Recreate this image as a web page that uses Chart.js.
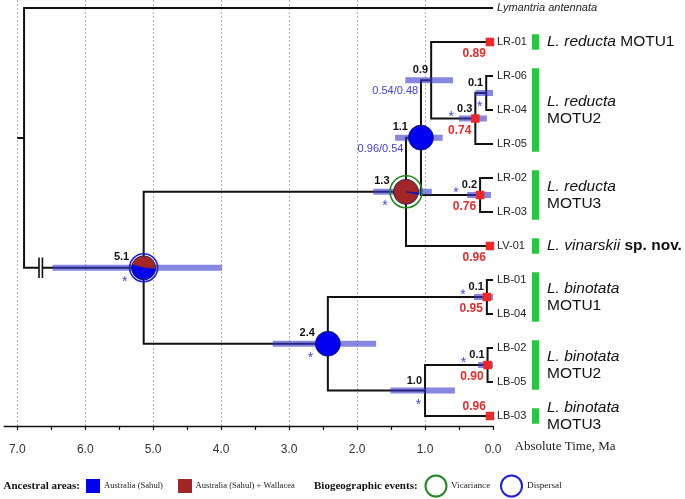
<!DOCTYPE html>
<html>
<head>
<meta charset="utf-8">
<script src="https://cdn.jsdelivr.net/npm/chart.js@4.4.1/dist/chart.umd.min.js"></script>
<style>
  html, body { margin: 0; padding: 0; background: #fff; }
  canvas { display: block; }
</style>
</head>
<body>
<canvas id="tree" width="685" height="499"></canvas>
<script>
// Tips, top to bottom (y = row index)
const tipNames = ['Lymantria antennata', 'LR-01', 'LR-06', 'LR-04', 'LR-05', 'LR-02', 'LR-03',
                  'LV-01', 'LB-01', 'LB-04', 'LB-02', 'LB-05', 'LB-03'];

// Internal nodes: age (Ma) and children
const nodeIds  = ['root', 'n51', 'n13', 'n11', 'n09', 'n03', 'n01a', 'n02', 'n24', 'n10', 'n01b', 'n01c'];
const nodeAges = [6.90, 5.14, 1.28, 1.06, 0.91, 0.26, 0.10, 0.19, 2.43, 1.00, 0.09, 0.08];
const nodeKids = [
    ['Lymantria antennata', 'n51'], ['n13', 'n24'], ['n11', 'LV-01'], ['n09', 'n02'],
    ['LR-01', 'n03'], ['n01a', 'LR-05'], ['LR-06', 'LR-04'], ['LR-02', 'LR-03'],
    ['n01b', 'n10'], ['n01c', 'LB-03'], ['LB-01', 'LB-04'], ['LB-02', 'LB-05']
];

// 95% HPD of node ages (Ma)
const hpdNodes = ['n51', 'n13', 'n11', 'n09', 'n03', 'n01a', 'n02', 'n24', 'n10', 'n01b', 'n01c'];
const hpdLow   = [3.99, 0.90, 0.74, 0.59, 0.09, 0.00, 0.03, 1.72, 0.56, 0.00, 0.00];
const hpdHigh  = [6.48, 1.76, 1.44, 1.29, 0.50, 0.26, 0.38, 3.24, 1.51, 0.28, 0.22];

// Posterior probabilities of MOTU clades (red squares)
const ppAt     = ['LR-01', 'n03', 'n02', 'LV-01', 'n01b', 'n01c', 'LB-03'];
const ppValues = [0.89, 0.74, 0.76, 0.96, 0.95, 0.90, 0.96];

// Nodes marked with an asterisk, and other support values
const starNodes    = ['n51', 'n13', 'n03', 'n01a', 'n02', 'n24', 'n10', 'n01b', 'n01c'];
const supportNodes = ['n09', 'n11'];
const supportText  = ['0.54/0.48', '0.96/0.54'];

// Ancestral areas (pie fractions) and biogeographic events
const pieNodes    = ['n51', 'n13', 'n11', 'n24'];
const pieSahul    = [0.53, 0.02, 1, 1];
const pieWallacea = [0.47, 0.98, 0, 0];
const eventNodes  = ['n51', 'n13'];
const eventTypes  = ['Dispersal', 'Vicariance'];

// MOTU bars
const motuFirst   = ['LR-01', 'LR-06', 'LR-02', 'LV-01', 'LB-01', 'LB-02', 'LB-03'];
const motuLast    = ['LR-01', 'LR-05', 'LR-03', 'LV-01', 'LB-04', 'LB-05', 'LB-03'];
const motuSpecies = ['L. reducta', 'L. reducta', 'L. reducta', 'L. vinarskii', 'L. binotata', 'L. binotata', 'L. binotata'];
const motuName    = ['MOTU1', 'MOTU2', 'MOTU3', 'sp. nov.', 'MOTU1', 'MOTU2', 'MOTU3'];
const motuOneLine = [true, false, false, true, false, false, false];

const timeTicks = [0, 1, 2, 3, 4, 5, 6, 7];

// ---- layout helpers ----
const SANS = 'Liberation Sans, Arial, sans-serif';
const SERIF = 'Liberation Serif, Times New Roman, serif';
const BLUE = '#0000f0', BROWN = '#a32626';
const STEM_BREAK = [6.68, 6.63];
const MOTU_X = -0.625;
const TIP_SQ_X = 0.045;

const yOf = {}, ageOf = {};
tipNames.forEach((n, i) => { yOf[n] = i; ageOf[n] = 0; });
nodeIds.forEach((id, i) => { ageOf[id] = nodeAges[i]; });
function rowOf(id) {
    if (id in yOf) return yOf[id];
    const k = nodeKids[nodeIds.indexOf(id)];
    yOf[id] = (rowOf(k[0]) + rowOf(k[k.length - 1])) / 2;
    return yOf[id];
}
nodeIds.forEach(rowOf);

const GAP = { x: 0, y: null };

// branches as elbow paths parent -> child
const branchPts = [];
nodeIds.forEach((id, i) => {
    const a = nodeAges[i], y0 = yOf[id];
    nodeKids[i].forEach(k => {
        const y = yOf[k];
        if (k === 'n51') {
            branchPts.push({ x: a, y: y0 }, { x: a, y: y }, { x: STEM_BREAK[0], y: y }, GAP,
                           { x: STEM_BREAK[1], y: y }, { x: ageOf[k], y: y }, GAP);
        } else {
            branchPts.push({ x: a, y: y0 }, { x: a, y: y }, { x: ageOf[k], y: y }, GAP);
        }
    });
});
branchPts.push({ x: nodeAges[0] + 0.1, y: yOf.root }, { x: nodeAges[0], y: yOf.root }, GAP);

const breakPts = [];
STEM_BREAK.forEach(b => breakPts.push({ x: b, y: yOf.n51 - 0.3 }, { x: b, y: yOf.n51 + 0.3 }, GAP));

const hpdPts = [];
hpdNodes.forEach((id, i) => hpdPts.push({ x: hpdLow[i], y: yOf[id] }, { x: hpdHigh[i], y: yOf[id] }, GAP));

const motuPts = [];
motuFirst.forEach((f, i) => motuPts.push({ x: MOTU_X, y: yOf[f] - 0.23 }, { x: MOTU_X, y: yOf[motuLast[i]] + 0.23 }, GAP));

const sqPts = ppAt.map(id => ({ x: (id in ageOf && ageOf[id] > 0) ? ageOf[id] : TIP_SQ_X, y: yOf[id] }));

const halfTicks = [];
timeTicks.forEach(t => { halfTicks.push(t); if (t < 7) halfTicks.push(t + 0.5); });

function pieRadius(id) {
    const e = eventNodes.indexOf(id);
    if (e >= 0) return eventTypes[e] === 'Vicariance' ? 16 : 14;
    return pieNodes.indexOf(id) >= 0 ? 12.5 : 0;
}

const treeDecor = {
    id: 'treeDecor',
    beforeDraw(chart) {
        const ctx = chart.ctx;
        ctx.save();
        ctx.fillStyle = '#fff';
        ctx.fillRect(0, 0, chart.width, chart.height);
        ctx.restore();
    },
    afterDatasetsDraw(chart) {
        const { ctx, chartArea } = chart;
        const xs = chart.scales.x, ys = chart.scales.y;
        const px = v => xs.getPixelForValue(v), py = v => ys.getPixelForValue(v);
        ctx.save();

        // time axis line
        ctx.strokeStyle = '#111';
        ctx.lineWidth = 1.5;
        ctx.beginPath();
        ctx.moveTo(px(7.2), chartArea.bottom + 0.5);
        ctx.lineTo(px(0), chartArea.bottom + 0.5);
        ctx.stroke();

        // ancestral area pies
        pieNodes.forEach((id, i) => {
            const cx = px(ageOf[id]), cy = py(yOf[id]);
            const e = eventNodes.indexOf(id);
            const r = e >= 0 && eventTypes[e] === 'Dispersal' ? 12 : 12.5;
            let a = 5 * Math.PI / 180;
            [[pieSahul[i], BLUE], [pieWallacea[i], BROWN]].forEach(([f, c]) => {
                if (f <= 0) return;
                ctx.beginPath();
                ctx.moveTo(cx, cy);
                ctx.arc(cx, cy, r, a, a + f * 2 * Math.PI);
                ctx.closePath();
                ctx.fillStyle = c;
                ctx.fill();
                a += f * 2 * Math.PI;
            });
            if (pieSahul[i] > 0 && pieSahul[i] < 1) {
                ctx.beginPath();
                ctx.moveTo(cx, cy);
                ctx.arc(cx, cy, r, 5 * Math.PI / 180, (5 + pieSahul[i] * 360) * Math.PI / 180);
                ctx.closePath();
                ctx.strokeStyle = '#1010b0';
                ctx.lineWidth = 0.8;
                ctx.stroke();
            }
            ctx.beginPath();
            ctx.arc(cx, cy, r, 0, 2 * Math.PI);
            ctx.strokeStyle = '#1a1a50';
            ctx.lineWidth = 0.8;
            ctx.stroke();
            if (e >= 0) {
                ctx.beginPath();
                ctx.arc(cx, cy, pieRadius(id), 0, 2 * Math.PI);
                ctx.strokeStyle = eventTypes[e] === 'Vicariance' ? '#1e8a1e' : '#2020d8';
                ctx.lineWidth = 1.6;
                ctx.stroke();
            }
        });

        // node ages
        ctx.font = 'bold 11px ' + SANS;
        ctx.fillStyle = '#111';
        ctx.textAlign = 'right';
        ctx.textBaseline = 'middle';
        nodeIds.forEach((id, i) => {
            if (i === 0) return;
            const r = pieRadius(id);
            ctx.fillText(nodeAges[i].toFixed(1), px(nodeAges[i]) - (r ? r + 0.5 : 3), py(yOf[id]) - (r ? 11 : 10));
        });

        // other support values
        ctx.font = '11px ' + SANS;
        ctx.fillStyle = '#3d3dd8';
        supportNodes.forEach((id, i) => {
            const r = pieRadius(id);
            ctx.fillText(supportText[i], px(ageOf[id]) - (r ? r + 5 : 13), py(yOf[id]) + 11);
        });

        // asterisks
        ctx.font = '14px ' + SANS;
        ctx.fillStyle = '#4646e0';
        ctx.textAlign = 'center';
        ctx.textBaseline = 'alphabetic';
        starNodes.forEach(id => {
            const cx = px(ageOf[id]), cy = py(yOf[id]);
            const r = pieRadius(id);
            if (ppAt.indexOf(id) >= 0) ctx.fillText('*', cx - 24, cy - 6 + 8);
            else ctx.fillText('*', cx - (r ? r + 5 : 6.5), cy + 10 + 8);
        });

        // posterior probabilities
        ctx.font = 'bold 12px ' + SANS;
        ctx.fillStyle = '#ea2a2a';
        ctx.textAlign = 'right';
        ctx.textBaseline = 'middle';
        ppAt.forEach((id, i) => {
            const sx = px(sqPts[i].x), sy = py(yOf[id]);
            const bottom = yOf[id] === tipNames.length - 1;
            ctx.fillText(ppValues[i].toFixed(2), sx - 4, sy + (bottom ? -9 : 12));
        });

        // tip labels
        ctx.fillStyle = '#222';
        ctx.textAlign = 'left';
        tipNames.forEach((n, i) => {
            ctx.font = (i === 0 ? 'italic ' : '') + '11px ' + SANS;
            ctx.fillText(n, px(0) + 4, py(i));
        });

        // MOTU labels
        const lx = px(MOTU_X) + 11.5;
        const fs = '15.5px ';
        motuFirst.forEach((f, i) => {
            const cy = py((yOf[f] + yOf[motuLast[i]]) / 2);
            const nameFont = (motuName[i] === 'sp. nov.' ? 'bold ' : '') + fs + SANS;
            ctx.fillStyle = '#111';
            if (motuOneLine[i]) {
                ctx.font = 'italic ' + fs + SANS;
                const w = ctx.measureText(motuSpecies[i] + ' ').width;
                ctx.fillText(motuSpecies[i], lx, cy);
                ctx.font = nameFont;
                ctx.fillText(motuName[i], lx + w, cy);
            } else {
                ctx.font = 'italic ' + fs + SANS;
                ctx.fillText(motuSpecies[i], lx, cy - 8.75);
                ctx.font = nameFont;
                ctx.fillText(motuName[i], lx, cy + 8.75);
            }
        });

        // axis title
        ctx.font = '13px ' + SERIF;
        ctx.fillStyle = '#222';
        ctx.fillText('Absolute Time, Ma', px(0) + 21.5, chartArea.bottom + 21);

        // legend
        const ly = 486;
        ctx.fillStyle = '#111';
        ctx.font = 'bold 11px ' + SERIF;
        ctx.fillText('Ancestral areas:', 3.5, ly);
        ctx.fillStyle = BLUE;
        ctx.fillRect(86, ly - 7, 14, 14);
        ctx.fillStyle = BROWN;
        ctx.fillRect(178, ly - 7, 14, 14);
        ctx.fillStyle = '#222';
        ctx.font = '8.6px ' + SERIF;
        ctx.fillText('Australia (Sahul)', 104, ly);
        ctx.fillText('Australia (Sahul) + Wallacea', 195.5, ly);
        ctx.fillStyle = '#111';
        ctx.font = 'bold 11px ' + SERIF;
        ctx.fillText('Biogeographic events:', 314, ly);
        ctx.lineWidth = 2;
        ctx.strokeStyle = '#1e8a1e';
        ctx.beginPath(); ctx.arc(436, ly, 10.5, 0, 2 * Math.PI); ctx.stroke();
        ctx.strokeStyle = '#2020d8';
        ctx.beginPath(); ctx.arc(511.5, ly, 10.5, 0, 2 * Math.PI); ctx.stroke();
        ctx.fillStyle = '#222';
        ctx.font = '9.2px ' + SERIF;
        ctx.fillText('Vicariance', 451, ly);
        ctx.fillText('Dispersal', 527, ly);

        ctx.restore();
    }
};

new Chart(document.getElementById('tree'), {
    type: 'line',
    data: {
        datasets: [
            { label: 'pp', data: sqPts, showLine: false, pointStyle: 'rect', pointRadius: 6,
              pointBackgroundColor: '#ee2727', pointBorderWidth: 0, order: 1 },
            { label: 'motu', data: motuPts, borderColor: '#1fcc3a', borderWidth: 7,
              borderCapStyle: 'butt', pointRadius: 0, order: 2 },
            { label: 'hpd', data: hpdPts, borderColor: 'rgba(55,55,205,0.6)', borderWidth: 6,
              borderCapStyle: 'butt', pointRadius: 0, order: 3 },
            { label: 'break', data: breakPts, borderColor: '#111', borderWidth: 1.6,
              borderCapStyle: 'butt', pointRadius: 0, order: 4 },
            { label: 'branches', data: branchPts, borderColor: '#111', borderWidth: 2,
              borderCapStyle: 'butt', borderJoinStyle: 'miter', pointRadius: 0, order: 5 }
        ]
    },
    options: {
        responsive: false,
        animation: false,
        layout: { padding: 0, autoPadding: false },
        plugins: { legend: { display: false }, tooltip: { enabled: false } },
        scales: {
            x: {
                type: 'linear',
                reverse: true,
                min: -2.825,
                max: 7.254,
                afterFit: s => { s.height = 73; },
                afterBuildTicks: s => { s.ticks = halfTicks.map(v => ({ value: v })); },
                ticks: {
                    autoSkip: false,
                    maxRotation: 0,
                    padding: 12,
                    color: '#333',
                    font: { family: SANS, size: 12 },
                    callback: v => Number.isInteger(v) ? v.toFixed(1) : ''
                },
                grid: {
                    color: c => (c.tick && Number.isInteger(c.tick.value) && c.tick.value > 0) ? '#b0b0b0' : 'rgba(0,0,0,0)',
                    lineWidth: 1,
                    tickColor: '#111',
                    tickLength: 4,
                    tickWidth: 1.2
                },
                border: { display: false, dash: [2, 2] }
            },
            y: { type: 'linear', reverse: true, min: -0.2353, max: 12.294, display: false }
        }
    },
    plugins: [treeDecor]
});
</script>
</body>
</html>
